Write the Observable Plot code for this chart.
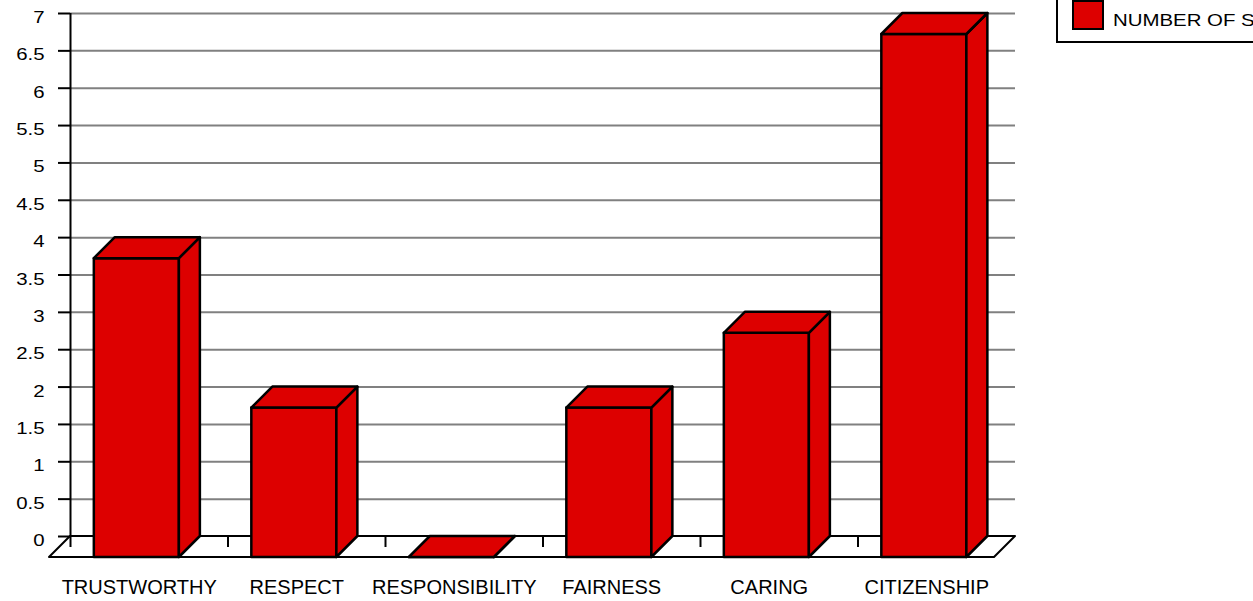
<!DOCTYPE html>
<html>
<head>
<meta charset="utf-8">
<script src="https://cdn.jsdelivr.net/npm/d3@7"></script>
<script src="https://cdn.jsdelivr.net/npm/@observablehq/plot@0.6"></script>
<style>
  html, body { margin: 0; padding: 0; background: #fff; overflow: hidden; }
  #wrap { position: relative; width: 1253px; height: 601px; overflow: hidden; font-family: "Liberation Sans", Arial, sans-serif; }
  #legend { position: absolute; left: 1056px; top: -4px; width: 260px; height: 47px; border: 2px solid #000; box-sizing: border-box; background: #fff; }
  #legend .sw { position: absolute; left: 14px; top: 2px; width: 32px; height: 30px; border: 2px solid #000; box-sizing: border-box; background: #dd0000; }
  #legend .lb { position: absolute; left: 55px; top: 14px; font-size: 17px; line-height: 17px; white-space: nowrap; color: #000; transform: scaleX(1.2); transform-origin: 0 0; }
</style>
</head>
<body>
<div id="wrap"></div>
<script>
// ---- data ----
const categories = ["TRUSTWORTHY", "RESPECT", "RESPONSIBILITY", "FAIRNESS", "CARING", "CITIZENSHIP"];
const values = [4, 2, 0, 2, 3, 7];
const yTicks = [0, 0.5, 1, 1.5, 2, 2.5, 3, 3.5, 4, 4.5, 5, 5.5, 6, 6.5, 7];
const yTickLabels = ["0", "0.5", "1", "1.5", "2", "2.5", "3", "3.5", "4", "4.5", "5", "5.5", "6", "6.5", "7"];
const seriesName = "NUMBER OF STUDENTS";

// ---- style constants ----
const RED = "#dd0000";
const DX = -21, DY = 21;      // depth offset (back plane -> front plane)
const BAR_FRAC = 0.54;        // bar width as fraction of a category band
const BAR_SHIFT = 8.6;        // horizontal shift of bars (px)
const FONT = "Liberation Sans, Arial, sans-serif";
const Y_STRETCH = 1.2;

const n = categories.length;
const bounds = d3.range(1, n);
const centers = d3.range(n).map(i => i + 0.5);

function floorMark(index, scales) {
  const x = scales.x, y = scales.y;
  const x0 = x(0), x1 = x(n), y0 = y(0);
  const pts = [[x0, y0], [x1, y0], [x1 + DX, y0 + DY], [x0 + DX, y0 + DY]];
  const g = d3.create("svg:g").attr("aria-label", "floor");
  g.append("path")
    .attr("d", "M" + pts.map(p => p.join(",")).join("L") + "Z")
    .attr("fill", "#fff").attr("stroke", "#000").attr("stroke-width", 2)
    .attr("stroke-linejoin", "round");
  return g.node();
}

function barsMark(index, scales) {
  const x = scales.x, y = scales.y;
  const band = x(1) - x(0);
  const hw = band * BAR_FRAC / 2;
  const g = d3.create("svg:g").attr("aria-label", "bars")
    .attr("fill", RED).attr("stroke", "#000").attr("stroke-width", 2.5)
    .attr("stroke-linejoin", "round");
  const poly = pts => "M" + pts.map(p => p.join(",")).join("L") + "Z";
  values.forEach((v, i) => {
    const cx = x(i + 0.5) + BAR_SHIFT;
    const xl = cx - hw, xr = cx + hw, yv = y(v), y0 = y(0);
    g.append("path").attr("d", poly([[xl + DX, yv + DY], [xr + DX, yv + DY], [xr + DX, y0 + DY], [xl + DX, y0 + DY]]));
    g.append("path").attr("d", poly([[xr + DX, yv + DY], [xr, yv], [xr, y0], [xr + DX, y0 + DY]]));
    g.append("path").attr("d", poly([[xl + DX, yv + DY], [xr + DX, yv + DY], [xr, yv], [xl, yv]]));
  });
  return g.node();
}

const chart = Plot.plot({
  width: 1253,
  height: 601,
  marginLeft: 70,
  marginRight: 238,
  marginTop: 13,
  marginBottom: 65,
  style: { fontFamily: FONT, background: "transparent", color: "#000" },
  x: { domain: [0, n], axis: null },
  y: { domain: [0, 7], axis: null },
  marks: [
    Plot.ruleY(yTicks.filter(t => t > 0), { stroke: "#808080", strokeWidth: 2 }),
    floorMark,
    Plot.ruleX([0], { y1: 7, y2: 0, insetBottom: -11, stroke: "#000", strokeWidth: 2 }),
    Plot.ruleY(yTicks, { x1: 0, x2: 0, insetLeft: -12, stroke: "#000", strokeWidth: 2 }),
    Plot.ruleX(bounds, { y1: 0, y2: 0, insetBottom: -11, stroke: "#000", strokeWidth: 2 }),
    barsMark,
    Plot.text(yTicks, {
      y: d => d, text: (d, i) => yTickLabels[i], frameAnchor: "left",
      textAnchor: "end", lineAnchor: "bottom", dx: -26, dy: 9.5,
      fontSize: 17, fill: "#000"
    }),
    Plot.text(categories, {
      x: (d, i) => centers[i], text: d => d, frameAnchor: "bottom",
      lineAnchor: "bottom", dx: -10, dy: 57, fontSize: 20, fill: "#000"
    })
  ]
});

const wrap = document.getElementById("wrap");
wrap.appendChild(chart);

// horizontally stretch the y tick labels (as in the reference rendering)
const labelSet = new Set(yTickLabels);
for (const t of chart.querySelectorAll("text")) {
  if (!labelSet.has(t.textContent)) continue;
  const w = t.getComputedTextLength();
  t.setAttribute("textLength", (w * Y_STRETCH).toFixed(2));
  t.setAttribute("lengthAdjust", "spacingAndGlyphs");
}

// legend
const legend = document.createElement("div");
legend.id = "legend";
legend.innerHTML = '<div class="sw"></div><div class="lb"></div>';
legend.querySelector(".lb").textContent = seriesName;
wrap.appendChild(legend);
</script>
</body>
</html>
